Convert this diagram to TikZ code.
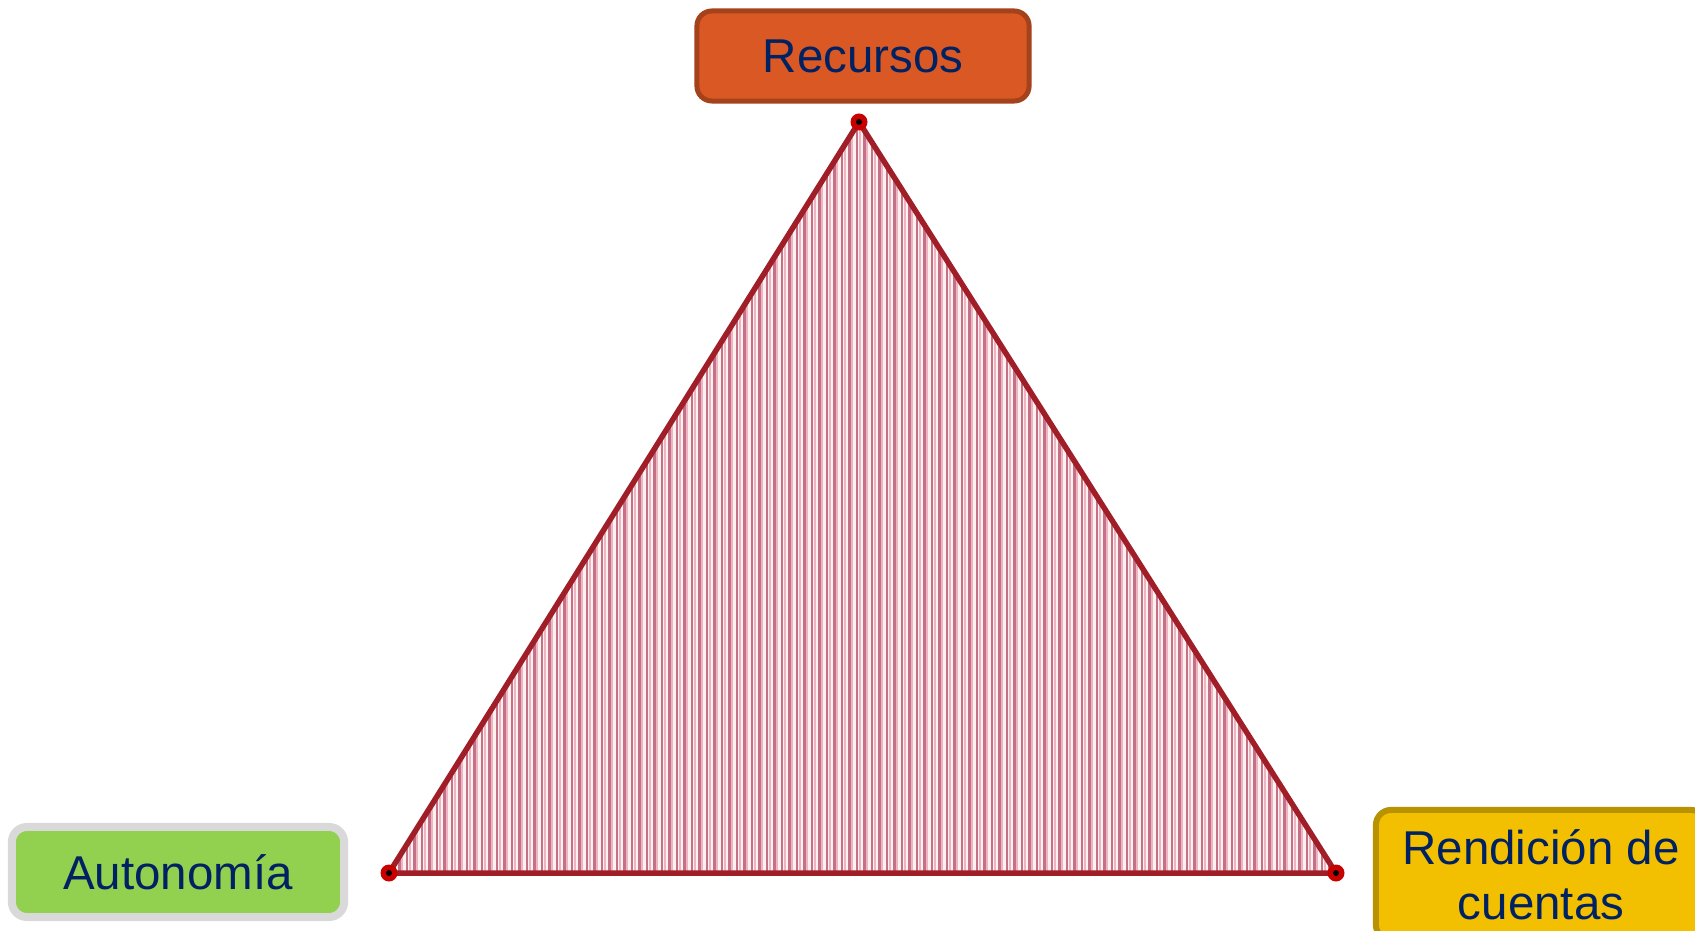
\documentclass[tikz,border=0pt]{standalone}
\usepackage{fontspec}
\setmainfont{Liberation Sans}
\usetikzlibrary{positioning}
\definecolor{textnavy}{RGB}{0, 34, 98}
\definecolor{orangefill}{RGB}{218, 88, 36}
\definecolor{orangeline}{RGB}{164, 66, 27}
\definecolor{greenfill}{RGB}{146, 208, 80}
\definecolor{greyline}{RGB}{217, 217, 217}
\definecolor{yellowfill}{RGB}{242, 192, 0}
\definecolor{yellowline}{RGB}{184, 146, 0}
\definecolor{edgered}{RGB}{160, 30, 40}
\definecolor{dotred}{RGB}{200, 0, 0}
\definecolor{hatchbg}{RGB}{255, 242, 236}
\definecolor{hatchline}{RGB}{196, 112, 136}
\definecolor{hatchlight}{RGB}{238, 180, 196}

\begin{document}
\begin{tikzpicture}[x=0.01cm, y=-0.01cm,
  labelbox/.style={rounded corners=0.15cm, align=center, text=textnavy,
    font=\fontsize{13.5}{15.6}\selectfont, inner sep=0pt},
  edge/.style={edgered, line width=0.055cm, line join=round}]

  \useasboundingbox (0,0) rectangle (1695,931);

  % --- Triangle corners ---
  \coordinate (top) at (859,122);
  \coordinate (left) at (389,873);
  \coordinate (right) at (1336,873);

  % Hatched interior
  \fill[hatchbg] (top) -- (left) -- (right) -- cycle;
  \begin{scope}
    \clip (top) -- (left) -- (right) -- cycle;
    \foreach \x in {392,399.5,...,1336} {
      \draw[hatchlight, line width=0.02cm] (\x+2.5,110) -- (\x+2.5,880);
      \draw[hatchline, line width=0.022cm] (\x,110) -- (\x,880);
    }
  \end{scope}

  \draw[edge] (top) -- (left) -- (right) -- cycle;

  % Corner markers
  \foreach \p in {top, left, right} {
    \fill[dotred] (\p) circle (0.085cm);
    \fill[black] (\p) circle (0.03cm);
  }

  % --- Labels ---
  \node[labelbox, fill=orangefill, draw=orangeline, line width=0.05cm,
    minimum width=3.32cm, minimum height=0.9cm] (recursos) at (863,56) {Recursos};
  \node[labelbox, fill=greenfill, draw=greyline, line width=0.08cm,
    minimum width=3.32cm, minimum height=0.9cm] (autonomia) at (178,872) {Autonomía};
  \node[labelbox, fill=yellowfill, draw=yellowline, line width=0.06cm,
    minimum width=3.30cm, minimum height=1.30cm] (rendicion) at (1541,875) {Rendición de\\cuentas};

\end{tikzpicture}
\end{document}
